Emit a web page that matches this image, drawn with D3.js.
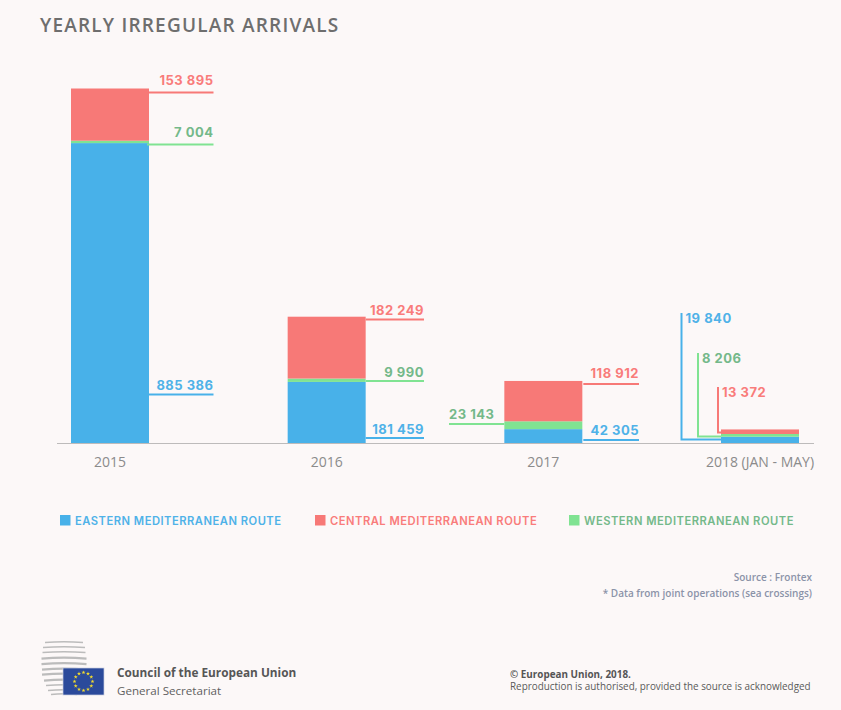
<!DOCTYPE html>
<html>
<head>
<meta charset="utf-8">
<script src="https://cdn.jsdelivr.net/npm/d3@7"></script>
<style>
  html, body { margin: 0; padding: 0; background: #fcf8f8; }
  svg { display: block; }
  .value { font-family: Inter, sans-serif; font-weight: 700; font-size: 13px; letter-spacing: 0.5px; }
  .legend { font-family: Inter, sans-serif; font-weight: 600; font-size: 11.2px; letter-spacing: 0.5px; }
  .tick text { font-family: "Open Sans", sans-serif; font-size: 14px; fill: #8b8b8b; }
</style>
</head>
<body>
<div id="chart"></div>
<script>
// data
var years = ["2015", "2016", "2017", "2018 (JAN - MAY)"];
var eastern = [885386, 181459, 42305, 19840];
var western = [7004, 9990, 23143, 8206];
var central = [153895, 182249, 118912, 13372];

var routeKeys = ["eastern", "western", "central"];
var legendNames = ["EASTERN MEDITERRANEAN ROUTE", "CENTRAL MEDITERRANEAN ROUTE", "WESTERN MEDITERRANEAN ROUTE"];
var legendKeys = ["eastern", "central", "western"];

var blue = "#48b1e9";
var red = "#f77977";
var green = "#80e392";
var fills = { eastern: blue, central: red, western: green };
var textColors = { eastern: "#4fb2e8", central: "#f97c7b", western: "#74b98a" };

var svgWidth = 841;
var svgHeight = 710;
var baseY = 443.5;

var svg = d3.select("#chart")
  .append("svg")
  .attr("width", svgWidth)
  .attr("height", svgHeight);

svg.append("rect")
  .attr("width", svgWidth)
  .attr("height", svgHeight)
  .attr("fill", "#fcf8f8");

// title
svg.append("text")
  .attr("x", 40)
  .attr("y", 32)
  .attr("font-family", "'Open Sans', sans-serif")
  .attr("font-weight", 600)
  .attr("font-size", 19)
  .attr("letter-spacing", 1.2)
  .attr("fill", "#6e6e6e")
  .text("YEARLY IRREGULAR ARRIVALS");

// scales
var xScale = d3.scaleBand()
  .domain(years)
  .range([71, 799])
  .paddingInner(0.64);

var yScale = d3.scaleLinear()
  .domain([0, 1046285])
  .range([baseY, 88.5]);

var rows = years.map(function(year, i) {
  return { year: year, eastern: eastern[i], western: western[i], central: central[i] };
});
var series = d3.stack().keys(routeKeys)(rows);

// stacked bars
svg.selectAll("g.route")
  .data(series)
  .enter()
  .append("g")
  .attr("class", "route")
  .attr("fill", d => fills[d.key])
  .selectAll("rect")
  .data(d => d)
  .enter()
  .append("rect")
  .attr("x", d => xScale(d.data.year))
  .attr("y", d => yScale(d[1]))
  .attr("width", xScale.bandwidth())
  .attr("height", d => yScale(d[0]) - yScale(d[1]));

// axis
var bottomAxis = d3.axisBottom(xScale).tickSize(0).tickPadding(14);
var xAxis = svg.append("g")
  .attr("transform", `translate(0, ${baseY})`)
  .call(bottomAxis);
xAxis.select(".domain").remove();
svg.append("line")
  .attr("x1", 57)
  .attr("x2", 814)
  .attr("y1", baseY)
  .attr("y2", baseY)
  .attr("stroke", "#bdbbbb")
  .attr("stroke-width", 1.2);

// leader lines and their value labels, one year at a time
function fmt(v) {
  return d3.format(",")(v).replace(/,/g, " ");
}

function barRight(i) { return xScale(years[i]) + xScale.bandwidth(); }
function barLeft(i) { return xScale(years[i]); }

// side leaders: y is where the leader sits, x0-x1 its ends, gap lifts the label off it
var sideLabels = [
  { key: "central", i: 0, y: 92.5, gap: 7.5, x0: barRight(0), x1: 213.5, end: true },
  { key: "western", i: 0, y: 144.5, gap: 7.5, x0: barRight(0) - 2, x1: 213.5, end: true },
  { key: "eastern", i: 0, y: 394.5, gap: 4.5, x0: barRight(0), x1: 213.5, end: true },
  { key: "central", i: 1, y: 319.5, gap: 4.5, x0: barRight(1), x1: 424, end: true },
  { key: "western", i: 1, y: 381, gap: 4.5, x0: barRight(1), x1: 424, end: true },
  { key: "eastern", i: 1, y: 438, gap: 4.5, x0: barRight(1), x1: 424, end: true },
  { key: "central", i: 2, y: 384, gap: 6, x0: barRight(2) + 1, x1: 639, end: true },
  { key: "western", i: 2, y: 424, gap: 5, x0: barLeft(2), x1: 449, end: false },
  { key: "eastern", i: 2, y: 440, gap: 5, x0: barRight(2) + 1, x1: 639, end: true }
];

var values = { eastern: eastern, central: central, western: western };

sideLabels.forEach(function(d) {
  svg.append("line")
    .attr("x1", d.x0)
    .attr("x2", d.x1)
    .attr("y1", d.y)
    .attr("y2", d.y)
    .attr("stroke", fills[d.key])
    .attr("stroke-width", 2);
  svg.append("text")
    .attr("class", "value")
    .attr("x", d.x1)
    .attr("y", d.y - d.gap)
    .attr("text-anchor", d.end ? "end" : "start")
    .attr("fill", textColors[d.key])
    .text(fmt(values[d.key][d.i]));
});

// elbow leaders for the small 2018 bar
var elbowLabels = [
  { key: "eastern", x: 681.5, top: 313, low: 439.5 },
  { key: "western", x: 698, top: 353, low: 436.5 },
  { key: "central", x: 718, top: 387, low: 432.5 }
];

elbowLabels.forEach(function(d) {
  svg.append("path")
    .attr("d", d3.line()([[d.x, d.top], [d.x, d.low], [barLeft(3), d.low]]))
    .attr("fill", "none")
    .attr("stroke", fills[d.key])
    .attr("stroke-width", 2);
  svg.append("text")
    .attr("class", "value")
    .attr("x", d.x + 4)
    .attr("y", d.top + 10)
    .attr("fill", textColors[d.key])
    .text(fmt(values[d.key][3]));
});

// legend
var legendX = [60, 315, 569];
legendKeys.forEach(function(key, i) {
  svg.append("rect")
    .attr("x", legendX[i])
    .attr("y", 515)
    .attr("width", 10.5)
    .attr("height", 10.5)
    .attr("fill", fills[key]);
  svg.append("text")
    .attr("class", "legend")
    .attr("x", legendX[i] + 15)
    .attr("y", 524.5)
    .attr("fill", textColors[key])
    .text(legendNames[i]);
});

// source notes
var notes = ["Source : Frontex", "* Data from joint operations (sea crossings)"];
notes.forEach(function(note, i) {
  svg.append("text")
    .attr("x", 812)
    .attr("y", 581 + i * 15.5)
    .attr("text-anchor", "end")
    .attr("font-family", "'Open Sans', sans-serif")
    .attr("font-weight", 600)
    .attr("font-size", 10)
    .attr("fill", "#8b93a8")
    .text(note);
});

// copyright
svg.append("text")
  .attr("x", 510)
  .attr("y", 677.5)
  .attr("font-family", "'Open Sans', sans-serif")
  .attr("font-weight", 700)
  .attr("font-size", 9.9)
  .attr("fill", "#555555")
  .text("© European Union, 2018.");
svg.append("text")
  .attr("x", 510)
  .attr("y", 690)
  .attr("font-family", "'Open Sans', sans-serif")
  .attr("font-size", 9.9)
  .attr("fill", "#5a5a5a")
  .text("Reproduction is authorised, provided the source is acknowledged");

// council logo: striped globe with the flag on top
var stripeY = [642, 647, 652, 658, 663.5, 669, 674, 680, 685, 690, 694];
var stripeHalf = [19, 21, 21.5, 22.5, 22.5, 22, 22, 20, 18, 16, 13];
var logo = svg.append("g");
stripeY.forEach(function(y, i) {
  var half = stripeHalf[i];
  logo.append("path")
    .attr("d", `M${64 - half},${y + 0.6} Q64,${y - 1.2} ${64 + half},${y + 0.6}`)
    .attr("fill", "none")
    .attr("stroke", "#bcbcbc")
    .attr("stroke-width", i < 3 || i > 7 ? 1.5 : 2.3);
});

logo.append("rect")
  .attr("x", 63)
  .attr("y", 668)
  .attr("width", 41)
  .attr("height", 27)
  .attr("fill", "#2b4a9b")
  .attr("stroke", "#c9cfe0")
  .attr("stroke-width", 0.7);

d3.range(12).forEach(function(i) {
  var a = i / 12 * 2 * Math.PI;
  logo.append("path")
    .attr("d", d3.symbol(d3.symbolStar, 5)())
    .attr("transform", `translate(${83.5 + 9 * Math.sin(a)}, ${681.5 - 9 * Math.cos(a)})`)
    .attr("fill", "#f4dc2c");
});

svg.append("text")
  .attr("x", 117)
  .attr("y", 677)
  .attr("font-family", "'Open Sans', sans-serif")
  .attr("font-weight", 700)
  .attr("font-size", 11.8)
  .attr("fill", "#565656")
  .text("Council of the European Union");
svg.append("text")
  .attr("x", 117)
  .attr("y", 695)
  .attr("font-family", "'Open Sans', sans-serif")
  .attr("font-size", 11.6)
  .attr("fill", "#5f5f5f")
  .text("General Secretariat");
</script>
</body>
</html>
